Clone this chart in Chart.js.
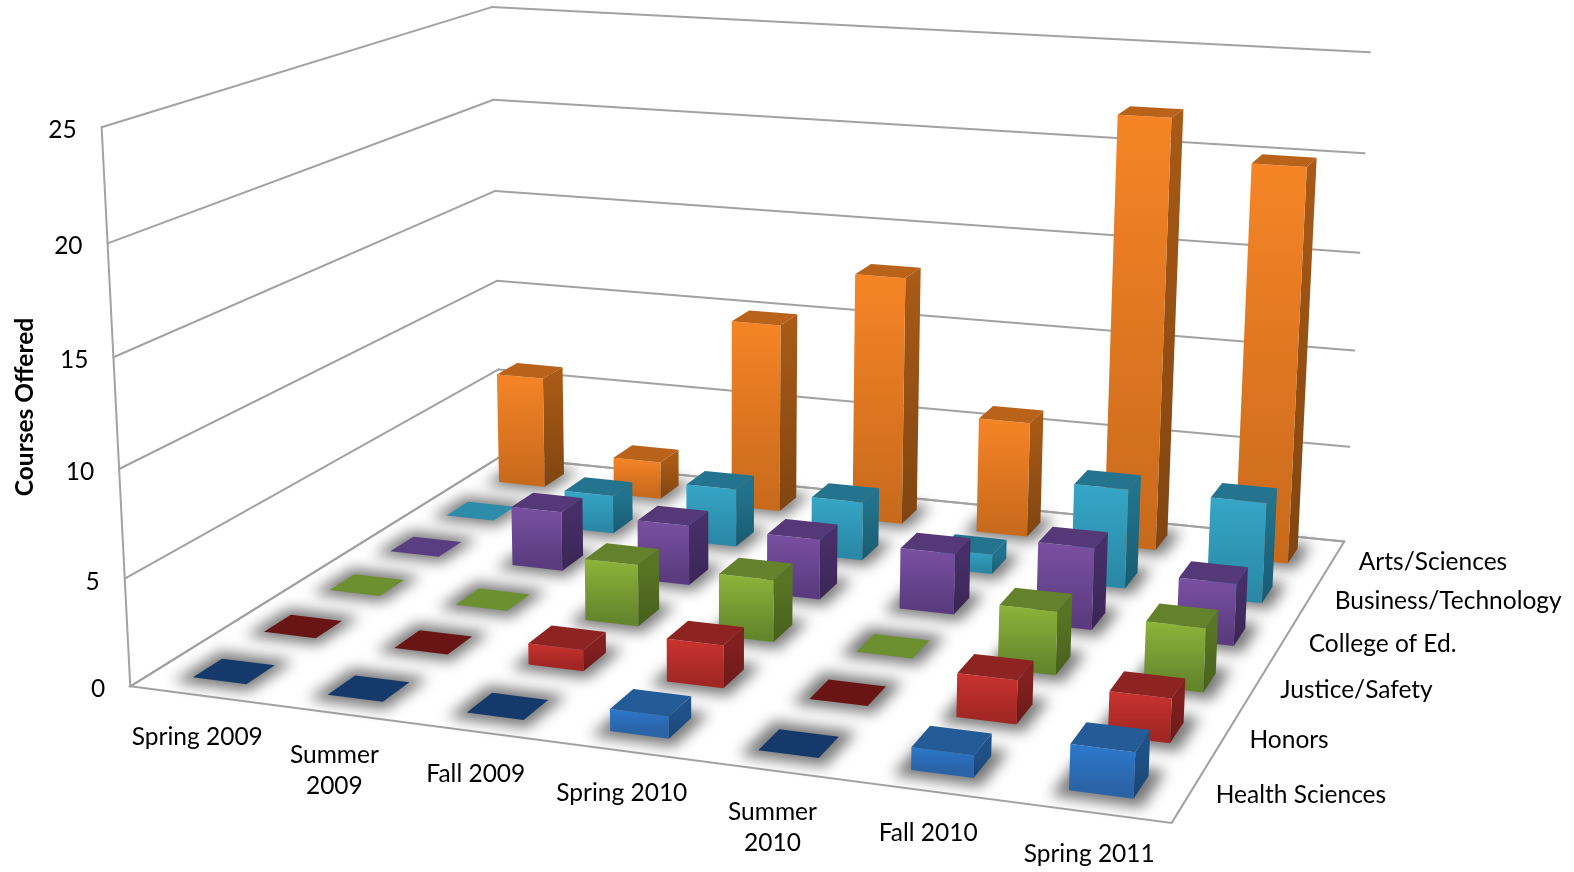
<!DOCTYPE html>
<html>
<head>
<meta charset="utf-8">
<title>Courses Offered</title>
<script src="https://cdn.jsdelivr.net/npm/chart.js@4"></script>
<style>
  html, body { margin: 0; padding: 0; background: #fff; }
  canvas { display: block; }
</style>
</head>
<body>
<canvas id="coursesChart" width="1574" height="872"></canvas>
<script>
const terms = ['Spring 2009', ['Summer', '2009'], 'Fall 2009', 'Spring 2010', ['Summer', '2010'], 'Fall 2010', 'Spring 2011'];
// front row first
const programs = ['Health Sciences', 'Honors', 'Justice/Safety', 'College of Ed.', 'Business/Technology', 'Arts/Sciences'];

const healthSciences = [0, 0, 0, 1, 0, 1, 2];
const honors = [0, 0, 1, 2, 0, 2, 2];
const justiceSafety = [0, 0, 3, 3, 0, 3, 3];
const collegeOfEd = [0, 3, 3, 3, 3, 4, 3];
const businessTech = [0, 2, 3, 3, 1, 5, 5];
const artsSciences = [6, 2, 10, 13, 6, 22, 20];

const valueTicks = { min: 0, max: 25, stepSize: 5 };

// front gradient top/bottom, top face, side gradient top/bottom, colour of an empty tile
const palette = [
  { hi: '#2d78cc', lo: '#2a63a6', top: '#235b96', side: '#1f5188', sideLo: '#1a4472', flat: '#16396b' },
  { hi: '#c9332f', lo: '#a22724', top: '#8e2422', side: '#821f1f', sideLo: '#6b1a1a', flat: '#691515' },
  { hi: '#8db43a', lo: '#64852c', top: '#64822b', side: '#587524', sideLo: '#47601d', flat: '#6c8f2f' },
  { hi: '#7a50a2', lo: '#5a3b7e', top: '#553878', side: '#472e68', sideLo: '#3a2655', flat: '#5a3e82' },
  { hi: '#36a6c7', lo: '#2a88a6', top: '#25748f', side: '#21738d', sideLo: '#1a5b70', flat: '#2c8ca9' },
  { hi: '#f68426', lo: '#c86a1c', top: '#b8621a', side: '#a85a16', sideLo: '#7f4512', flat: '#b8621a' },
];

const GRID = '#a2a2a2';
const FONT = 'Lato, sans-serif';
const BAR_SHARE = 0.4;

// where the plot box lands on the canvas: [u, v, w, screenX, screenY]
const boxCorners = [
  [0, 0, 0, 130, 686],
  [1, 0, 0, 1172, 824],
  [1, 1, 0, 1344, 540],
  [0, 1, 0, 500, 460],
  [0, 0, 1, 101, 128],
  [0, 1, 1, 492, 8],
  [1, 1, 1, 1370, 52],
  [0, 1, 0.8, 494, 99],
  [0, 1, 0.6, 495, 190],
  [0, 1, 0.4, 497, 279],
  [1, 1, 0.8, 1365, 154],
  [1, 1, 0.6, 1359, 253],
  [0, 0, 0.8, 107.5, 244],
  [0, 0, 0.6, 113, 357],
  [0, 0, 0.4, 119, 469],
  [0, 0, 0.2, 126, 577],
];

// least squares fit of a 3x4 camera matrix to the box corners
function fitCamera(corners) {
  const rows = [];
  const rhs = [];
  corners.forEach(([u, v, w, sx, sy]) => {
    const x = sx / 1000;
    const y = sy / 1000;
    rows.push([u, v, w, 1, 0, 0, 0, 0, -x * u, -x * v, -x * w]);
    rhs.push(x);
    rows.push([0, 0, 0, 0, u, v, w, 1, -y * u, -y * v, -y * w]);
    rhs.push(y);
  });
  const n = 11;
  const m = [];
  for (let i = 0; i < n; i++) {
    m.push([]);
    for (let j = 0; j < n; j++) {
      m[i].push(rows.reduce((s, r) => s + r[i] * r[j], 0));
    }
    m[i].push(rows.reduce((s, r, k) => s + r[i] * rhs[k], 0));
  }
  for (let c = 0; c < n; c++) {
    let p = c;
    for (let r = c + 1; r < n; r++) if (Math.abs(m[r][c]) > Math.abs(m[p][c])) p = r;
    [m[c], m[p]] = [m[p], m[c]];
    for (let r = 0; r < n; r++) {
      if (r === c) continue;
      const f = m[r][c] / m[c][c];
      for (let k = c; k <= n; k++) m[r][k] -= f * m[c][k];
    }
  }
  return m.map((r, i) => r[n] / r[i]);
}

const cam = fitCamera(boxCorners);

function project(u, v, w) {
  const d = cam[8] * u + cam[9] * v + cam[10] * w + 1;
  return [
    1000 * (cam[0] * u + cam[1] * v + cam[2] * w + cam[3]) / d,
    1000 * (cam[4] * u + cam[5] * v + cam[6] * w + cam[7]) / d,
  ];
}

function poly(ctx, pts) {
  ctx.beginPath();
  pts.forEach((p, i) => (i ? ctx.lineTo(p[0], p[1]) : ctx.moveTo(p[0], p[1])));
  ctx.closePath();
}

function line(ctx, a, b) {
  ctx.beginPath();
  ctx.moveTo(a[0], a[1]);
  ctx.lineTo(b[0], b[1]);
  ctx.stroke();
}

// scale position -> 0..1 along that axis
const share = (scale, index) => (scale.getPixelForValue(index) - scale.left) / scale.width;
const height = (scale, value) => (scale.bottom - scale.getPixelForValue(value)) / scale.height;

const box3d = {
  id: 'box3d',
  beforeDatasetsDraw(chart) {
    const { ctx, scales } = chart;
    ctx.save();
    ctx.strokeStyle = GRID;
    ctx.lineWidth = 2;
    ctx.lineCap = 'round';
    scales.y.ticks.forEach((t) => {
      const w = height(scales.y, t.value);
      const a = project(0, 0, w);
      const b = project(0, 1, w);
      const c = project(1, 1, w);
      line(ctx, a, b);
      line(ctx, b, c);
      ctx.fillStyle = '#000';
      ctx.font = '24.5px ' + FONT;
      ctx.textAlign = 'right';
      ctx.textBaseline = 'middle';
      ctx.fillText(String(t.value), a[0] - 25, a[1] + 3);
    });
    line(ctx, project(0, 0, 0), project(0, 0, 1));
    poly(ctx, [project(0, 0, 0), project(1, 0, 0), project(1, 1, 0), project(0, 1, 0)]);
    ctx.stroke();

    ctx.fillStyle = '#000';
    ctx.font = '24.5px ' + FONT;
    ctx.textBaseline = 'middle';
    ctx.textAlign = 'center';
    scales.x.getLabels().forEach((label, i) => {
      const p = project(share(scales.x, i), 0, 0);
      [].concat(label).forEach((text, k) => {
        ctx.fillText(text, p[0], p[1] + 42 + k * 31);
      });
    });
    ctx.textAlign = 'left';
    scales.z.getLabels().forEach((label, r) => {
      const p = project(1, share(scales.z, r), 0);
      ctx.fillText(label, p[0] + 26, p[1] + 2);
    });

    ctx.save();
    ctx.translate(25, 407);
    ctx.rotate(-Math.PI / 2);
    ctx.textAlign = 'center';
    ctx.font = 'bold 24.5px ' + FONT;
    ctx.fillText('Courses Offered', 0, 0);
    ctx.restore();
    ctx.restore();
  },
  afterDatasetsDraw(chart) {
    const { ctx, scales, data } = chart;
    const du = BAR_SHARE / terms.length / 2;
    const dv = BAR_SHARE / programs.length / 2;

    // soft contact shadows on the floor go under every bar
    ctx.save();
    ctx.filter = 'blur(7px)';
    ctx.fillStyle = '#777';
    data.datasets.forEach((ds, r) => {
      const v = share(scales.z, r);
      ds.data.forEach((val, i) => {
        const u = share(scales.x, i);
        const a = du * 1.4;
        const b = dv * 1.6;
        poly(ctx, [project(u - a, v - b, 0), project(u + a, v - b, 0), project(u + a, v + b, 0), project(u - a, v + b, 0)]);
        ctx.fill();
      });
    });
    ctx.restore();

    // back row first, left to right, so nearer bars paint over farther ones
    for (let r = data.datasets.length - 1; r >= 0; r--) {
      const v = share(scales.z, r);
      const c = palette[r];
      data.datasets[r].data.forEach((val, i) => {
        const u = share(scales.x, i);
        const w = height(scales.y, val);
        const fl = project(u - du, v - dv, 0);
        const fr = project(u + du, v - dv, 0);
        const br = project(u + du, v + dv, 0);
        const tfl = project(u - du, v - dv, w);
        const tfr = project(u + du, v - dv, w);
        const tbr = project(u + du, v + dv, w);
        const tbl = project(u - du, v + dv, w);
        if (val === 0) {
          ctx.fillStyle = c.flat;
          poly(ctx, [tfl, tfr, tbr, tbl]);
          ctx.fill();
          return;
        }
        const gs = ctx.createLinearGradient(0, tfr[1], 0, fr[1]);
        gs.addColorStop(0, c.side);
        gs.addColorStop(1, c.sideLo);
        ctx.fillStyle = gs;
        poly(ctx, [fr, br, tbr, tfr]);
        ctx.fill();
        const g = ctx.createLinearGradient(0, tfl[1], 0, fl[1]);
        g.addColorStop(0, c.hi);
        g.addColorStop(1, c.lo);
        ctx.fillStyle = g;
        poly(ctx, [fl, fr, tfr, tfl]);
        ctx.fill();
        ctx.fillStyle = c.top;
        poly(ctx, [tfl, tfr, tbr, tbl]);
        ctx.fill();
      });
    }
  },
};

const seriesValues = [healthSciences, honors, justiceSafety, collegeOfEd, businessTech, artsSciences];

new Chart(document.getElementById('coursesChart').getContext('2d'), {
  type: 'bar',
  data: {
    labels: terms,
    datasets: programs.map((name, r) => ({
      label: name,
      data: seriesValues[r],
      backgroundColor: 'transparent',
    })),
  },
  options: {
    responsive: false,
    animation: false,
    layout: { padding: 0 },
    plugins: { legend: { display: false }, tooltip: { enabled: false } },
    scales: {
      x: { type: 'category', display: false, offset: true },
      z: { type: 'category', axis: 'x', position: 'bottom', display: false, offset: true, labels: programs },
      y: { type: 'linear', display: false, min: valueTicks.min, max: valueTicks.max, ticks: { stepSize: valueTicks.stepSize } },
    },
  },
  plugins: [box3d],
});
</script>
</body>
</html>
